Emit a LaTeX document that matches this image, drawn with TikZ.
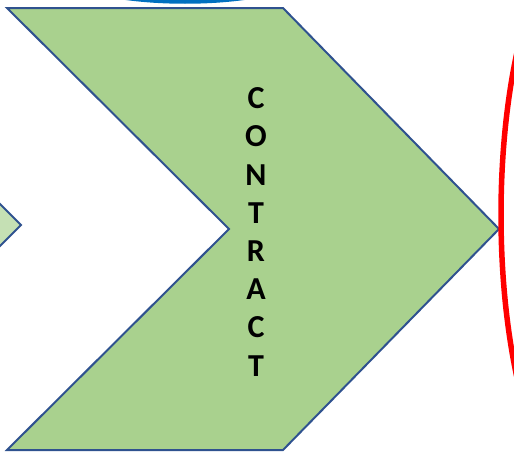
\documentclass[tikz,border=0pt]{standalone}
\usepackage{fontspec}
\setmainfont{Carlito}
\usetikzlibrary{shapes.geometric}
\definecolor{chevgreen}{RGB}{169,209,142}
\definecolor{chevpale}{RGB}{197,224,180}
\definecolor{chevline}{RGB}{47,82,143}
\definecolor{ovalblue}{RGB}{0,112,192}

\begin{document}
\begin{tikzpicture}[
    x=1pt, y=-1pt,
    chevron/.style={draw=chevline, line width=2pt, line join=miter},
    oval/.style={draw, line width=5.5pt},
    word/.style={font=\bfseries\fontsize{32}{38.2}\selectfont, align=center, inner sep=0pt}
]
    \useasboundingbox (0,0) rectangle (514,455);
    \clip (0,0) rectangle (514,455);

    % corner points of the big chevron
    \coordinate (tl) at (7,8);
    \coordinate (tr) at (283,8);
    \coordinate (tip) at (499,229);
    \coordinate (br) at (283,450);
    \coordinate (bl) at (7,450);
    \coordinate (notch) at (229,229);

    % previous chevron, only its tip shows
    \draw[chevron, fill=chevpale] (-30,174) -- (21,225) -- (-30,276);

    % main chevron
    \draw[chevron, fill=chevgreen] (tl) -- (tr) -- (tip) -- (br) -- (bl) -- (notch) -- cycle;

    % vertical label
    \node[word] (contract) at (256,232) {C\\O\\N\\T\\R\\A\\C\\T};

    % ovals cut off by the page
    \node[oval, draw=ovalblue, line width=3.5pt, ellipse, minimum width=280pt, minimum height=80pt] (topoval) at (185,-38) {};
    \draw[oval, red] (601,215) ellipse [x radius=100, y radius=300];
\end{tikzpicture}
\end{document}
